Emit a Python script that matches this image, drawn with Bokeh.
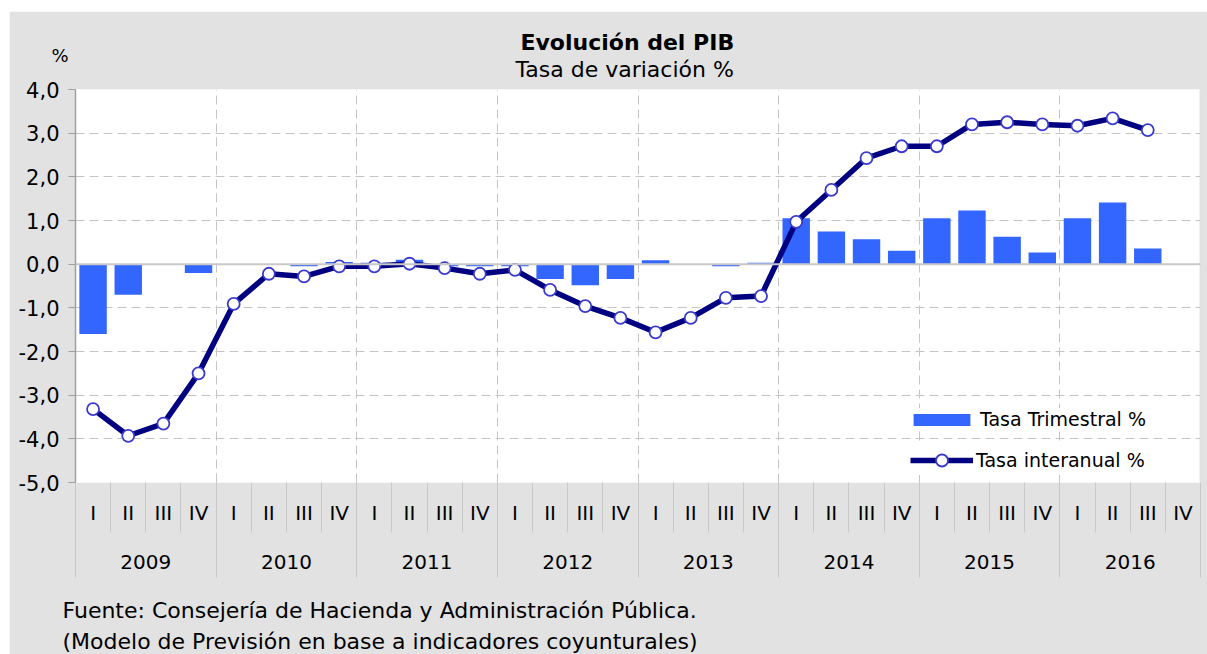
import math
from bokeh.plotting import figure
from bokeh.models import (Range1d, LinearAxis, FixedTicker, Span, Legend,
                          LegendItem, Grid, Title)
from bokeh.embed import file_html
from bokeh.resources import INLINE

# ---------------- data ----------------
years = ["2009", "2010", "2011", "2012", "2013", "2014", "2015", "2016"]
quarters = ["I", "II", "III", "IV"]

tasa_trimestral = [-1.60, -0.70, 0.00, -0.20,
                   0.00, 0.00, -0.05, 0.05,
                   0.03, 0.10, -0.05, -0.05,
                   -0.05, -0.34, -0.48, -0.34,
                   0.09, 0.00, -0.05, 0.03,
                   1.05, 0.75, 0.57, 0.31,
                   1.05, 1.23, 0.63, 0.27,
                   1.05, 1.41, 0.36, float("nan")]

tasa_interanual = [-3.32, -3.93, -3.65, -2.50,
                   -0.91, -0.22, -0.28, -0.05,
                   -0.05, 0.01, -0.09, -0.22,
                   -0.13, -0.59, -0.96, -1.23,
                   -1.56, -1.23, -0.77, -0.73,
                   0.97, 1.70, 2.43, 2.70,
                   2.70, 3.20, 3.25, 3.20,
                   3.17, 3.34, 3.07, float("nan")]

y_ticks = [-5, -4, -3, -2, -1, 0, 1, 2, 3, 4]
y_tick_labels = ["-5,0", "-4,0", "-3,0", "-2,0", "-1,0", "0,0", "1,0", "2,0", "3,0", "4,0"]

title_text = "Evolución del PIB"
subtitle_text = "Tasa de variación %"
unit_text = "%"
legend_labels = ["Tasa Trimestral %", "Tasa interanual %"]
footer_lines = ["Fuente: Consejería de Hacienda y Administración Pública.",
                "(Modelo de Previsión en base a indicadores coyunturales)"]

# ---------------- derived positions ----------------
n = len(years) * len(quarters)
idx = list(range(n))
quarter_labels = [q for _ in years for q in quarters]

FONT = "DejaVu Sans"
BG = "#e2e2e2"
GRID = "#c4c4c4"
SEP = "#c8c8c8"

p = figure(width=1198, height=643,
           x_range=Range1d(-0.5, n - 0.5), y_range=Range1d(min(y_ticks), max(y_ticks)),
           output_backend="svg", toolbar_location=None,
           x_axis_type=None, y_axis_type=None,
           min_border_left=66, min_border_right=7, min_border_top=78, min_border_bottom=172,
           background_fill_color="white", border_fill_color=BG, outline_line_color=None)
p.styles = {"margin-left": "9px", "margin-top": "11px"}
p.extra_x_ranges = {"years": Range1d(-0.5, len(years) - 0.5)}

# grids
p.add_layout(Grid(dimension=1, ticker=FixedTicker(ticks=y_ticks),
                  grid_line_color=GRID, grid_line_dash="9 5", grid_line_width=1))
p.add_layout(Grid(dimension=0, ticker=FixedTicker(ticks=[4 * k - 0.5 for k in range(1, len(years))]),
                  grid_line_color=GRID, grid_line_dash="9 5", grid_line_width=1))
p.add_layout(Span(location=0, dimension="width", line_color=SEP, line_width=2))
p.add_layout(Span(location=n - 0.5, dimension="height", line_color=SEP, line_width=1.5))

# y axis
yaxis = LinearAxis(ticker=FixedTicker(ticks=y_ticks),
                   major_label_overrides=dict(zip(y_ticks, y_tick_labels)),
                   axis_line_color="#a0a0a0", axis_line_width=1.5,
                   major_tick_line_color="#a0a0a0", major_tick_out=7, major_tick_in=0,
                   minor_tick_line_color=None, major_label_standoff=9,
                   major_label_text_font=FONT, major_label_text_font_size="21px",
                   major_label_text_color="black")
p.add_layout(yaxis, "left")

# quarter axis (separators are the minor ticks at quarter boundaries)
xq = LinearAxis(ticker=FixedTicker(ticks=idx, minor_ticks=[i - 0.5 for i in range(n + 1)]),
                major_label_overrides={i: quarter_labels[i] for i in idx},
                axis_line_color=None, major_tick_line_color=None,
                major_tick_out=0, major_tick_in=0, major_label_standoff=-32,
                minor_tick_line_color=SEP, minor_tick_out=50, minor_tick_in=0,
                major_label_text_font=FONT, major_label_text_font_size="20px",
                major_label_text_color="black",
                axis_label=" ", axis_label_text_font_size="1px", axis_label_standoff=0)
p.add_layout(xq, "below")

# year axis (separators are the minor ticks at year boundaries)
xy = LinearAxis(x_range_name="years",
                ticker=FixedTicker(ticks=list(range(len(years))),
                                   minor_ticks=[k - 0.5 for k in range(len(years) + 1)]),
                major_label_overrides={k: years[k] for k in range(len(years))},
                axis_line_color=None, major_tick_line_color=None,
                major_tick_out=0, major_tick_in=0, major_label_standoff=-23,
                minor_tick_line_color=SEP, minor_tick_out=46, minor_tick_in=0,
                major_label_text_font=FONT, major_label_text_font_size="20px",
                major_label_text_color="black")
p.add_layout(xy, "below")

# footer lines (titles below the axes)
p.add_layout(Title(text=footer_lines[0], align="left", offset=-13, standoff=48,
                   text_font=FONT, text_font_size="22px", text_font_style="normal",
                   text_color="black"), "below")
p.add_layout(Title(text=footer_lines[1], align="left", offset=-13, standoff=-36,
                   vertical_align="top",
                   text_font=FONT, text_font_size="22px", text_font_style="normal",
                   text_color="black"), "below")

# titles above (nearest to the frame first)
p.add_layout(Title(text=subtitle_text, align="left", offset=440, standoff=16,
                   text_font=FONT, text_font_size="22px", text_font_style="normal",
                   text_color="black"), "above")
p.add_layout(Title(text=unit_text, align="left", offset=-24, standoff=-39,
                   text_font=FONT, text_font_size="18px", text_font_style="normal",
                   text_color="black"), "above")
p.add_layout(Title(text=title_text, align="left", offset=445, standoff=-17,
                   text_font=FONT, text_font_size="22px", text_font_style="bold",
                   text_color="black"), "above")

# data glyphs
bars = p.vbar(x=idx, top=tasa_trimestral, bottom=0, width=0.78,
              fill_color="#3366ff", line_color=None)
line = p.line(idx, tasa_interanual, line_color="#000080", line_width=5.5, line_join="round")
pts = p.scatter(idx, tasa_interanual, size=12, marker="circle",
                fill_color="white", line_color="#3a3acc", line_width=1.8)

# legends
leg1 = Legend(items=[LegendItem(label=legend_labels[0], renderers=[bars])],
              location=(831, 52), glyph_width=71, glyph_height=15, label_standoff=3,
              padding=4, margin=0, spacing=0, border_line_color=None,
              background_fill_color="white", background_fill_alpha=1.0,
              label_text_font=FONT, label_text_font_size="19px", label_text_color="black")
leg2 = Legend(items=[LegendItem(label=legend_labels[1], renderers=[line, pts])],
              location=(835, 7), glyph_width=63, glyph_height=30, label_standoff=3,
              padding=4, margin=0, spacing=0, border_line_color=None,
              background_fill_color="white", background_fill_alpha=1.0,
              label_text_font=FONT, label_text_font_size="19px", label_text_color="black")
p.add_layout(leg1)
p.add_layout(leg2)

open("out.html", "w").write(file_html(p, INLINE))
